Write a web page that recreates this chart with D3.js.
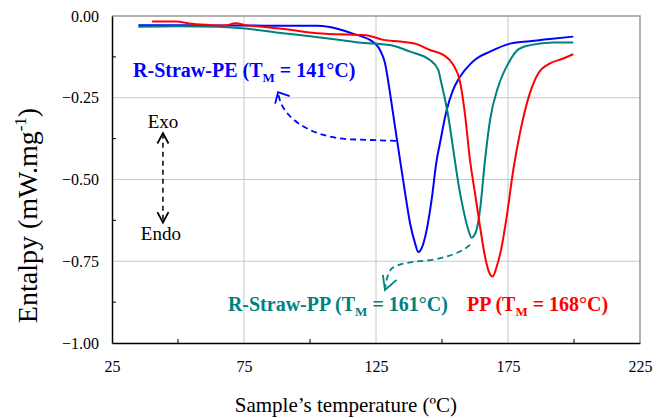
<!DOCTYPE html>
<html>
<head>
<meta charset="utf-8">
<script src="https://cdn.jsdelivr.net/npm/d3@7"></script>
<style>
  body { margin: 0; background: #fff; }
  text { font-family: "Liberation Serif", "Times New Roman", serif; }
</style>
</head>
<body>
<div class="container"></div>
<script>
// chart size and plot margins
const width = 668;
const height = 418;
const margin = { top: 16, right: 28, bottom: 75, left: 112 };
const serif = "'Liberation Serif', 'Times New Roman', serif";

// axis ticks
const xTicks = [25, 75, 125, 175, 225];
const xMinor = [50, 100, 150, 200];
const yTicks = [0, -0.25, -0.5, -0.75, -1];
const yMinor = [-0.125, -0.375, -0.625, -0.875];

// R-Straw-PE (blue)
const peTemp = [35, 45, 60, 75, 90, 103, 110, 115.2, 120, 122.7, 126.5, 128.4, 130.3, 132.2, 134.1, 136, 137.9, 139.8, 141, 142.3, 144.2, 146.1, 148, 149.2, 151.8, 154.2, 156.8, 160.6, 163.1, 168.2, 175.1, 183.3, 190.9, 199.7];
const peValue = [-0.028, -0.028, -0.029, -0.029, -0.03, -0.03, -0.038, -0.051, -0.064, -0.073, -0.104, -0.144, -0.235, -0.338, -0.44, -0.54, -0.634, -0.695, -0.722, -0.71, -0.654, -0.56, -0.44, -0.39, -0.287, -0.226, -0.186, -0.148, -0.13, -0.109, -0.086, -0.077, -0.07, -0.063];

// R-Straw-PP (teal)
const rppTemp = [35, 50, 65, 75.4, 88, 100.8, 110, 118.4, 130.3, 137.9, 145.5, 148.6, 149.6, 151, 152.4, 154.3, 156.2, 158.1, 160, 161.2, 162.3, 163.1, 164.4, 166.3, 168.2, 171.3, 175.1, 178.9, 183.3, 192.2, 199.7];
const rppValue = [-0.033, -0.031, -0.033, -0.038, -0.051, -0.063, -0.072, -0.081, -0.089, -0.109, -0.135, -0.165, -0.2, -0.25, -0.308, -0.41, -0.512, -0.593, -0.655, -0.678, -0.67, -0.654, -0.593, -0.44, -0.318, -0.216, -0.145, -0.102, -0.089, -0.081, -0.081];

// PP (red)
const ppTemp = [40.2, 49, 55.3, 62.9, 67.9, 71.7, 75.5, 81.8, 93.2, 100.8, 110.9, 118.4, 122.7, 127.8, 134.1, 140.4, 145.5, 150.5, 154.3, 156.8, 158.7, 160.6, 162.5, 164.4, 166.3, 168.2, 169.2, 170.7, 172.6, 174.5, 177, 179.5, 183.3, 186.5, 190.9, 195.9, 199.7];
const ppValue = [-0.017, -0.017, -0.024, -0.028, -0.029, -0.022, -0.028, -0.033, -0.043, -0.051, -0.056, -0.058, -0.061, -0.073, -0.078, -0.086, -0.104, -0.119, -0.15, -0.2, -0.3, -0.44, -0.542, -0.644, -0.736, -0.79, -0.797, -0.767, -0.706, -0.614, -0.471, -0.359, -0.236, -0.175, -0.145, -0.13, -0.117];

const series = [
  { temp: peTemp, value: peValue, color: "#0000ff" },
  { temp: rppTemp, value: rppValue, color: "#008080" },
  { temp: ppTemp, value: ppValue, color: "#ff0000" }
];

const svg = d3.select(".container")
  .append("svg")
  .attr("width", width)
  .attr("height", height);

const x = d3.scaleLinear()
  .domain([25, 225])
  .range([margin.left, width - margin.right]);

const y = d3.scaleLinear()
  .domain([-1, 0])
  .range([height - margin.bottom, margin.top]);

// gridlines
svg.append("g")
  .selectAll("line")
  .data([75, 125, 175])
  .join("line")
  .attr("x1", d => x(d)).attr("x2", d => x(d))
  .attr("y1", y(0)).attr("y2", y(-1))
  .attr("stroke", "#c8c8c8");

svg.append("g")
  .selectAll("line")
  .data([-0.25, -0.5, -0.75])
  .join("line")
  .attr("x1", x(25)).attr("x2", x(225))
  .attr("y1", d => y(d)).attr("y2", d => y(d))
  .attr("stroke", "#c8c8c8");

// top and right frame
svg.append("path")
  .attr("d", `M${x(25)},${y(0)}H${x(225)}V${y(-1)}`)
  .attr("fill", "none")
  .attr("stroke", "#999")
  .attr("stroke-width", 1.5);

// bottom axis
svg.append("g")
  .attr("transform", `translate(0,${y(-1)})`)
  .call(d3.axisBottom(x).tickValues(xTicks).tickSize(0).tickPadding(18).tickFormat(d3.format("d")))
  .attr("font-family", serif)
  .attr("font-size", 16)
  .call(g => g.select(".domain").attr("stroke", "#000").attr("stroke-width", 1.5))
  .call(g => g.selectAll("text").attr("fill", "#000"));

svg.append("g")
  .selectAll("line")
  .data(xMinor)
  .join("line")
  .attr("x1", d => x(d)).attr("x2", d => x(d))
  .attr("y1", y(-1)).attr("y2", y(-1) - 4)
  .attr("stroke", "#000");

// left axis
svg.append("g")
  .attr("transform", `translate(${x(25)},0)`)
  .call(d3.axisLeft(y).tickValues(yTicks).tickSize(0).tickPadding(13).tickFormat(d3.format(".2f")))
  .attr("font-family", serif)
  .attr("font-size", 16)
  .call(g => g.select(".domain").attr("stroke", "#000").attr("stroke-width", 1.5))
  .call(g => g.selectAll("text").attr("fill", "#000"));

svg.append("g")
  .selectAll("line")
  .data(yMinor)
  .join("line")
  .attr("x1", x(25)).attr("x2", x(25) + 4)
  .attr("y1", d => y(d)).attr("y2", d => y(d))
  .attr("stroke", "#000");

// curves
const line = d3.line()
  .x(d => x(d[0]))
  .y(d => y(d[1]))
  .curve(d3.curveMonotoneX);

series.forEach(s => {
  svg.append("path")
    .datum(d3.zip(s.temp, s.value))
    .attr("fill", "none")
    .attr("stroke", s.color)
    .attr("stroke-width", 2)
    .attr("d", line);
});

// open arrow heads
function arrowHead(tip, a, b, color) {
  svg.append("path")
    .attr("d", `M${a[0]},${a[1]}L${tip[0]},${tip[1]}L${b[0]},${b[1]}`)
    .attr("fill", "none")
    .attr("stroke", color)
    .attr("stroke-width", 1.8);
}

// blue arrow
svg.append("path")
  .attr("d", `M${x(132.6)},${y(-0.382)} L${x(115)},${y(-0.377)} C${x(100)},${y(-0.37)} ${x(89)},${y(-0.31)} ${x(88)},${y(-0.236)}`)
  .attr("fill", "none")
  .attr("stroke", "#0000ff")
  .attr("stroke-width", 1.8)
  .attr("stroke-dasharray", "6,4");
arrowHead([x(87.9), y(-0.233)], [x(86.8), y(-0.268)], [x(92.3), y(-0.245)], "#0000ff");

// teal arrow
svg.append("path")
  .attr("d", `M${x(160.6)},${y(-0.70)} C${x(158)},${y(-0.72)} ${x(152)},${y(-0.74)} ${x(144.2)},${y(-0.748)} C${x(138)},${y(-0.752)} ${x(133)},${y(-0.758)} ${x(131)},${y(-0.772)} C${x(129.5)},${y(-0.785)} ${x(128.8)},${y(-0.81)} ${x(128.5)},${y(-0.83)}`)
  .attr("fill", "none")
  .attr("stroke", "#008080")
  .attr("stroke-width", 1.8)
  .attr("stroke-dasharray", "6,4");
arrowHead([x(128.4), y(-0.838)], [x(127.6), y(-0.792)], [x(132.8), y(-0.807)], "#008080");

// exo / endo arrow
svg.append("line")
  .attr("x1", x(44.3)).attr("x2", x(44.3))
  .attr("y1", y(-0.36)).attr("y2", y(-0.63))
  .attr("stroke", "#000")
  .attr("stroke-width", 1.5)
  .attr("stroke-dasharray", "5,4");
arrowHead([x(44.3), y(-0.358)], [x(42.2), y(-0.39)], [x(46.4), y(-0.39)], "#000");
arrowHead([x(44.3), y(-0.632)], [x(42.2), y(-0.6)], [x(46.4), y(-0.6)], "#000");

svg.append("text")
  .attr("x", x(44.3)).attr("y", y(-0.342))
  .attr("text-anchor", "middle")
  .attr("font-size", 19)
  .text("Exo");

svg.append("text")
  .attr("x", x(43.5)).attr("y", y(-0.685))
  .attr("text-anchor", "middle")
  .attr("font-size", 19)
  .text("Endo");

// melting point labels
function label(tx, ty, name, temp, color) {
  const t = svg.append("text")
    .attr("x", x(tx)).attr("y", y(ty))
    .attr("font-size", 20)
    .attr("font-weight", "bold")
    .attr("fill", color);
  t.append("tspan").text(name + " (T");
  t.append("tspan").attr("font-size", 13).attr("dy", 5).text("M");
  t.append("tspan").attr("dy", -5).text(" = " + temp + "°C)");
}

label(33, -0.187, "R-Straw-PE", 141, "#0000ff");
label(68.9, -0.903, "R-Straw-PP", 161, "#008080");
label(159.5, -0.903, "PP", 168, "#ff0000");

// axis titles
svg.append("text")
  .attr("x", x(113.6)).attr("y", 412)
  .attr("text-anchor", "middle")
  .attr("font-size", 21)
  .text("Sample’s temperature (ºC)");

const yTitle = svg.append("text")
  .attr("transform", `translate(37,${y(-0.61)}) rotate(-90)`)
  .attr("text-anchor", "middle")
  .attr("font-size", 28);
yTitle.append("tspan").text("Entalpy (mW.mg");
yTitle.append("tspan").attr("font-size", 17).attr("dy", -11).text("-1");
yTitle.append("tspan").attr("dy", 11).text(")");
</script>
</body>
</html>
